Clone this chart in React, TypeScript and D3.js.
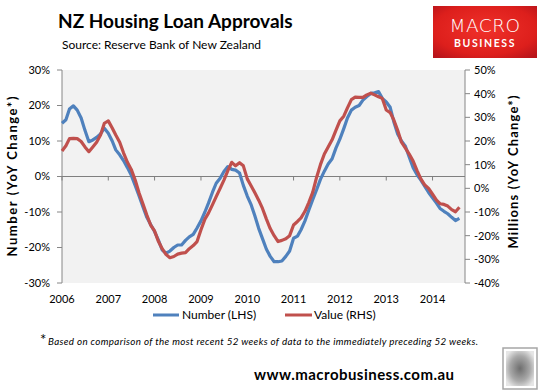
import React from 'react'
import * as d3 from 'd3'

// monthly readings, Jan 2006 .. Aug 2014 (YoY % change, 52 week rolling)
const firstMonth = new Date(2006, 0, 1)

const numberYoY = [
  15.0, 16.0, 19.0, 19.9, 18.7, 16.5, 13.0, 9.8, 10.3, 11.0, 12.0, 13.6,
  12.2, 10.0, 7.5, 6.1, 4.5, 2.5, 0.4, -2.5, -5.5, -8.5, -11.5, -13.5,
  -15.5, -18.0, -20.7, -21.6, -21.0, -20.0, -19.3, -19.3, -18.0, -17.0, -16.3, -14.5,
  -12.5, -10.0, -7.5, -4.5, -1.9, -0.5, 1.4, 2.8, 2.0, 1.8, 1.0, -2.5,
  -5.5, -8.0, -11.0, -14.6, -17.5, -20.5, -22.5, -24.0, -24.0, -23.8, -22.5, -21.0,
  -17.4, -16.8, -15.0, -12.5, -9.5, -6.5, -3.8, -0.8, 1.5, 3.5, 5.0, 8.0,
  10.5, 13.5, 16.5, 18.7, 19.5, 20.0, 21.5, 22.5, 23.4, 23.6, 23.9, 22.0,
  21.0, 19.5, 15.5, 12.0, 10.0, 8.5, 5.5, 2.5, 0.5, -1.0, -2.8, -4.5,
  -6.0, -7.5, -9.0, -9.8, -10.5, -11.5, -12.4, -11.8,
]

const valueYoY = [
  15.8, 18.0, 21.0, 21.1, 21.0, 19.8, 17.5, 15.5, 17.5, 19.5, 22.5, 27.5,
  28.5, 25.5, 22.5, 19.5, 15.0, 11.0, 8.0, 3.5, -2.0, -6.5, -11.3, -15.5,
  -18.0, -22.5, -25.5, -28.0, -29.3, -28.8, -27.8, -27.4, -27.2, -25.5, -24.2, -22.5,
  -17.5, -13.0, -10.5, -7.0, -3.5, 0.0, 3.5, 7.5, 11.0, 9.5, 10.8, 9.5,
  4.0, 1.0, -1.8, -5.0, -8.5, -13.0, -17.0, -20.0, -22.5, -22.0, -21.3, -20.0,
  -15.5, -14.0, -12.5, -9.7, -6.0, -1.7, 4.5, 10.0, 14.5, 17.5, 20.5, 24.5,
  28.5, 30.5, 34.0, 37.5, 38.5, 38.4, 38.4, 39.5, 40.2, 39.5, 38.7, 38.0,
  33.1, 32.0, 29.0, 24.5, 19.5, 17.0, 14.5, 11.5, 7.5, 4.0, 1.4, 0.0,
  -2.5, -5.0, -6.5, -6.8, -7.5, -9.0, -9.9, -8.0,
]

const leftTicks = [30, 20, 10, 0, -10, -20, -30]
const rightTicks = [50, 40, 30, 20, 10, 0, -10, -20, -30, -40]
const yearLabels = ['2006', '2007', '2008', '2009', '2010', '2011', '2012', '2013', '2014']

const seriesNames = ['Number (LHS)', 'Value (RHS)']
const blue = '#4f81bd'
const red = '#c0504d'
const font = 'Lato, "Open Sans", sans-serif'

export default function App() {
  const left = 62, right = 465, top = 70, bottom = 283

  const x = d3.scaleTime()
    .domain([new Date(2006, 0, 1), new Date(2014, 8, 14)])
    .range([left, right])
  const yL = d3.scaleLinear().domain([-30, 30]).range([bottom, top])
  const yR = d3.scaleLinear().domain([-40, 50]).range([bottom, top])

  const date = (i: number) => d3.timeMonth.offset(firstMonth, i)

  const numberLine = d3.line<number>()
    .x((_, i) => x(date(i)))
    .y(d => yL(d))
  const valueLine = d3.line<number>()
    .x((_, i) => x(date(i)))
    .y(d => yR(d))

  const zeroY = yL(0)
  const axisColor = '#868686'

  return (
    <svg width={540} height={392} style={{ position: 'absolute', left: 0, top: 0, background: '#fff' }}
      fontFamily={font}>
      <defs>
        <radialGradient id="logoFill" cx="50%" cy="45%" r="70%">
          <stop offset="0%" stopColor="#f0312a" />
          <stop offset="70%" stopColor="#dd1f1c" />
          <stop offset="100%" stopColor="#b8141a" />
        </radialGradient>
        <radialGradient id="foxFill" cx="50%" cy="50%" r="60%">
          <stop offset="0%" stopColor="#6e6e6e" />
          <stop offset="60%" stopColor="#a8a8a8" />
          <stop offset="100%" stopColor="#e6e6e6" />
        </radialGradient>
      </defs>

      {/* title block */}
      <text x={58} y={28} fontSize={19} fontWeight="bold" fill="#000">NZ Housing Loan Approvals</text>
      <text x={62} y={48.5} fontSize={12} fill="#000">Source: Reserve Bank of New Zealand</text>

      {/* logo */}
      <rect x={433} y={6} width={104} height={52} fill="url(#logoFill)" />
      <text x={485} y={32} fontSize={18.5} fill="#fff" textAnchor="middle" fontFamily="'DejaVu Sans', sans-serif"
        fontWeight={200} letterSpacing={0.5}>MACRO</text>
      <text x={485} y={46.5} fontSize={10.5} fill="#fff" textAnchor="middle" fontWeight="bold"
        letterSpacing={1.6}>BUSINESS</text>

      {/* plot area */}
      <rect x={left} y={top} width={right - left} height={bottom - top} fill="#f2f2f2" />

      {/* left axis */}
      <line x1={left} x2={left} y1={top} y2={bottom} stroke={axisColor} />
      {leftTicks.map(t => (
        <g key={`l${t}`}>
          <line x1={left - 5} x2={left} y1={yL(t)} y2={yL(t)} stroke={axisColor} />
          <text x={50} y={yL(t)} dy="0.35em" fontSize={11} textAnchor="end" fill="#000">{t}%</text>
        </g>
      ))}

      {/* right axis */}
      <line x1={right} x2={right} y1={top} y2={bottom} stroke={axisColor} />
      {rightTicks.map(t => (
        <g key={`r${t}`}>
          <line x1={right} x2={right + 5} y1={yR(t)} y2={yR(t)} stroke={axisColor} />
          <text x={474} y={yR(t)} dy="0.35em" fontSize={11} fill="#000">{t}%</text>
        </g>
      ))}

      {/* category axis through zero */}
      <line x1={left} x2={right} y1={zeroY} y2={zeroY} stroke="#7f7f7f" />
      {yearLabels.map(yr => {
        const xp = x(new Date(+yr, 0, 1))
        return (
          <g key={yr}>
            <line x1={xp} x2={xp} y1={zeroY} y2={zeroY + 4} stroke="#7f7f7f" />
            <text x={xp} y={303} fontSize={11} textAnchor="middle" fill="#000">{yr}</text>
          </g>
        )
      })}

      {/* axis titles */}
      <text transform="translate(17,176.5) rotate(-90)" fontSize={13} fontWeight="bold" textAnchor="middle"
        textLength={160} lengthAdjust="spacing" fill="#000">Number (YoY Change*)</text>
      <text transform="translate(518,172) rotate(-90)" fontSize={13} fontWeight="bold" textAnchor="middle"
        textLength={153} lengthAdjust="spacing" fill="#000">Millions (YoY Change*)</text>

      {/* series */}
      <path d={numberLine(numberYoY) || ''} fill="none" stroke={blue} strokeWidth={3.2} strokeLinejoin="round" />
      <path d={valueLine(valueYoY) || ''} fill="none" stroke={red} strokeWidth={3.2} strokeLinejoin="round" />

      {/* legend */}
      <line x1={153} x2={179} y1={315} y2={315} stroke={blue} strokeWidth={3} />
      <text x={182} y={315} dy="0.35em" fontSize={12} fill="#000">{seriesNames[0]}</text>
      <line x1={285} x2={312} y1={315} y2={315} stroke={red} strokeWidth={3} />
      <text x={314} y={315} dy="0.35em" fontSize={12} fill="#000">{seriesNames[1]}</text>

      {/* footnote */}
      <text x={40} y={345} fontSize={15} fill="#000">*</text>
      <text x={48} y={345} fontSize={9.8} fontStyle="italic" textLength={430} lengthAdjust="spacing" fill="#000">
        Based on comparison of the most recent 52 weeks of data to the immediately preceding 52 weeks.
      </text>

      <text x={254} y={380} fontSize={15} fontWeight="bold" textLength={200} lengthAdjust="spacing"
        fill="#000">www.macrobusiness.com.au</text>

      {/* fox badge */}
      <rect x={503} y={348} width={34} height={41} fill="#fff" stroke="#a6a6a6" strokeWidth={1.5} />
      <rect x={506} y={351} width={28} height={35} fill="url(#foxFill)" />
    </svg>
  )
}
